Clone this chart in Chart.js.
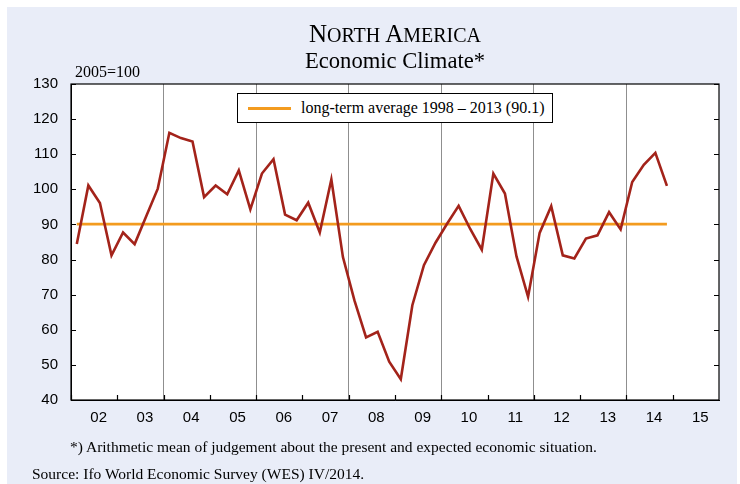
<!DOCTYPE html>
<html>
<head>
<meta charset="utf-8">
<script src="https://cdn.jsdelivr.net/npm/chart.js@4.4.1/dist/chart.umd.min.js"></script>
<style>
	html, body { margin: 0; padding: 0; background: #ffffff; }
	#page { position: relative; width: 740px; height: 484px; overflow: hidden; }
	#pageBg { position: absolute; left: 7px; top: 7px; width: 730px; height: 477px; background: #e9edf8; }
	#chartContainer { position: absolute; left: 0; top: 0; width: 740px; height: 484px; }
	.serif { position: absolute; font-family: "Liberation Serif", "Times New Roman", serif; color: #000; white-space: nowrap; }
	#title { left: 71px; width: 648px; top: 19px; text-align: center; font-size: 25px; line-height: 30px; }
	#title .sc { font-size: 0.8em; }
	#subtitle { left: 71px; width: 648px; top: 48px; text-align: center; font-size: 22.6px; line-height: 26px; }
	#unit { left: 75px; top: 63px; font-size: 16px; line-height: 18px; }
	#footnote { left: 70px; top: 438px; font-size: 15.5px; line-height: 18px; }
	#source { left: 32px; top: 465px; font-size: 15.5px; line-height: 18px; }
	#legendContainer { position: absolute; left: 237px; top: 93px; width: 314px; height: 28px; background: #fff; border: 1px solid #000; }
	.legendItem { position: absolute; left: 10px; top: 0; height: 28px; display: flex; align-items: center; }
	.legendSwatch { width: 43px; height: 3px; margin-right: 10px; }
	.legendText { font-family: "Liberation Serif", "Times New Roman", serif; font-size: 16px; color: #000; }
</style>
</head>
<body>
<div id="page">
	<div id="pageBg"></div>
	<div id="chartContainer"><canvas id="climateChart"></canvas></div>
	<div class="serif" id="title">N<span class="sc">ORTH</span> A<span class="sc">MERICA</span></div>
	<div class="serif" id="subtitle">Economic Climate*</div>
	<div class="serif" id="unit">2005=100</div>
	<div id="legendContainer"></div>
	<div class="serif" id="footnote">*) Arithmetic mean of judgement about the present and expected economic situation.</div>
	<div class="serif" id="source">Source: Ifo World Economic Survey (WES) IV/2014.</div>
</div>
<script>
// axis years and their labels
const years = [2002, 2003, 2004, 2005, 2006, 2007, 2008, 2009, 2010, 2011, 2012, 2013, 2014, 2015];
const yearLabels = ['02', '03', '04', '05', '06', '07', '08', '09', '10', '11', '12', '13', '14', '15'];
const yTicks = [40, 50, 60, 70, 80, 90, 100, 110, 120, 130];

// quarterly economic climate, Q1 2002 .. Q4 2014
const climate = [
	84.4, 101.1, 96.1, 81.2,
	87.7, 84.4, 92.3, 100.2,
	116.1, 114.6, 113.6, 97.8,
	101.1, 98.6, 105.4, 94.3,
	104.5, 108.6, 92.8, 91.2,
	96.2, 87.7, 102.8, 80.7,
	68.3, 57.8, 59.4, 50.9,
	45.9, 67.0, 78.4, 84.8,
	90.2, 95.3, 88.7, 82.8,
	104.5, 98.8, 80.9, 69.4,
	87.6, 95.2, 81.2, 80.3,
	86.0, 86.9, 93.5, 88.6,
	102.1, 107.0, 110.4, 101.0
];
const longTermAvg = 90.1;
const avgLabel = 'long-term average 1998 \u2013 2013 (90.1)';

const quarterX = (i) => years[0] + (i + 0.5) / 4;
const climatePoints = climate.map((v, i) => ({ x: quarterX(i), y: v }));
const avgPoints = climate.map((v, i) => ({ x: quarterX(i), y: longTermAvg }));

const lastYear = years[years.length - 1] + 1;

// white plot area behind the lines
const plotBackground = {
	id: 'plotBackground',
	beforeDraw(chart) {
		const { ctx, chartArea } = chart;
		ctx.save();
		ctx.fillStyle = '#ffffff';
		ctx.fillRect(chartArea.left, chartArea.top, chartArea.right - chartArea.left, chartArea.bottom - chartArea.top);
		ctx.restore();
	}
};

// frame and inward tick marks
const framePlugin = {
	id: 'frame',
	afterDraw(chart) {
		const { ctx, chartArea } = chart;
		const x = chart.scales.x, y = chart.scales.y;
		ctx.save();
		ctx.strokeStyle = '#000';
		ctx.lineWidth = 1.2;
		ctx.strokeRect(chartArea.left, chartArea.top, chartArea.right - chartArea.left, chartArea.bottom - chartArea.top);
		ctx.beginPath();
		yTicks.forEach(function (v) {
			const py = Math.round(y.getPixelForValue(v)) + 0.5;
			ctx.moveTo(chartArea.left, py);
			ctx.lineTo(chartArea.left + 5, py);
			ctx.moveTo(chartArea.right, py);
			ctx.lineTo(chartArea.right - 5, py);
		});
		years.forEach(function (yr) {
			const px = Math.round(x.getPixelForValue(yr)) + 0.5;
			ctx.moveTo(px, chartArea.bottom);
			ctx.lineTo(px, chartArea.bottom - 5);
		});
		ctx.stroke();
		ctx.restore();
	}
};

// legend built from the datasets, placed in the html box
const htmlLegendPlugin = {
	id: 'htmlLegend',
	afterUpdate(chart, args, options) {
		const container = document.getElementById(options.containerID);
		container.innerHTML = '';
		chart.data.datasets.forEach(function (ds) {
			if (!ds.label)
				return;
			const item = document.createElement('div');
			item.className = 'legendItem';
			const swatch = document.createElement('span');
			swatch.className = 'legendSwatch';
			swatch.style.background = ds.borderColor;
			const text = document.createElement('span');
			text.className = 'legendText';
			text.innerText = ds.label;
			item.appendChild(swatch);
			item.appendChild(text);
			container.appendChild(item);
		});
	}
};

const chart = new Chart(document.getElementById('climateChart'), {
	type: 'line',
	data: {
		datasets: [
			{
				label: avgLabel,
				data: avgPoints,
				borderColor: '#f39b1f',
				borderWidth: 2.6,
				pointRadius: 0,
				tension: 0,
				order: 2
			},
			{
				label: '',
				data: climatePoints,
				borderColor: '#a3231a',
				borderWidth: 2.6,
				pointRadius: 0,
				tension: 0,
				order: 1
			}
		]
	},
	options: {
		responsive: true,
		maintainAspectRatio: false,
		animation: false,
		layout: { padding: { left: 0, top: 84, right: 21, bottom: 0 } },
		plugins: {
			legend: { display: false },
			tooltip: { enabled: false },
			htmlLegend: { containerID: 'legendContainer' }
		},
		scales: {
			x: {
				type: 'linear',
				min: years[0],
				max: lastYear,
				afterBuildTicks(scale) {
					const ticks = [];
					years.forEach(function (yr) {
						ticks.push({ value: yr });
						ticks.push({ value: yr + 0.5 });
					});
					ticks.push({ value: lastYear });
					scale.ticks = ticks;
				},
				afterFit(scale) { scale.height = 84; },
				ticks: {
					autoSkip: false,
					maxRotation: 0,
					padding: 9,
					labelOffset: 4.5,
					color: '#000',
					font: { family: '"Liberation Sans", Arial, sans-serif', size: 15 },
					callback: function (v) {
						if (v % 1 !== 0.5)
							return '';
						return yearLabels[years.indexOf(Math.floor(v))];
					}
				},
				grid: {
					drawTicks: false,
					lineWidth: 1,
					color: function (ctx) {
						const v = ctx.tick ? ctx.tick.value : null;
						if (Number.isInteger(v) && v % 2 === 0 && v > years[0] && v < lastYear)
							return '#8f8f8f';
						return 'rgba(0,0,0,0)';
					}
				},
				border: { display: true, color: '#000' }
			},
			y: {
				min: 40,
				max: 130,
				afterBuildTicks(scale) {
					scale.ticks = yTicks.map((v) => ({ value: v }));
				},
				afterFit(scale) { scale.width = 71; },
				ticks: {
					padding: 13,
					color: '#000',
					font: { family: '"Liberation Sans", Arial, sans-serif', size: 15 }
				},
				grid: { display: false, drawTicks: false },
				border: { display: true, color: '#000' }
			}
		}
	},
	plugins: [plotBackground, framePlugin, htmlLegendPlugin]
});
</script>
</body>
</html>
